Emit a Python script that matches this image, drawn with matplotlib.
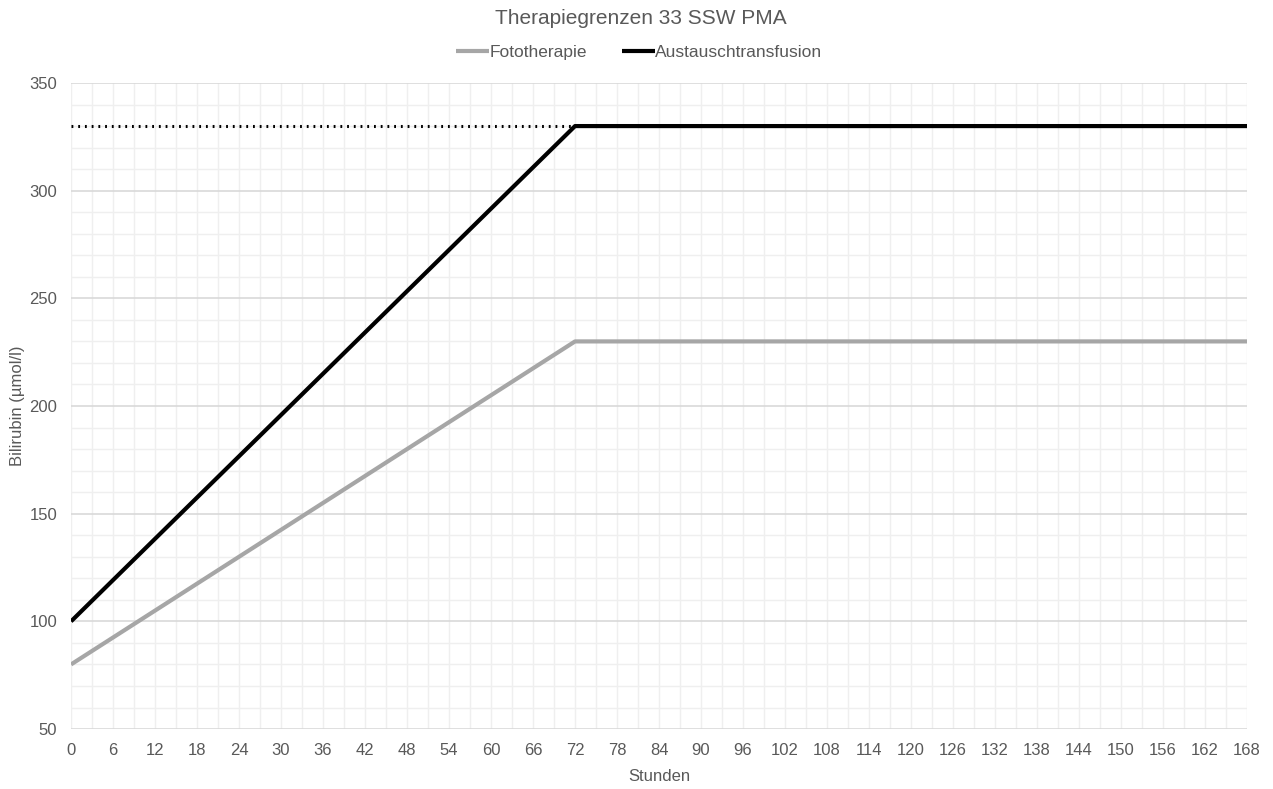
import matplotlib.pyplot as plt
from matplotlib.ticker import MultipleLocator

plt.rcParams['font.family'] = ['Liberation Sans', 'DejaVu Sans']

stunden = [0, 72, 168]
fototherapie = [80, 230, 230]
austausch = [100, 330, 330]
plateau_x = [0, 72]
plateau_y = [330, 330]

text_col = '#595959'

fig = plt.figure(figsize=(12.73, 7.89), dpi=100)
ax = fig.add_axes([0.0558, 0.076, 0.9238, 0.8188])

ax.plot(stunden, fototherapie, color='#a6a6a6', lw=3, label='Fototherapie', solid_capstyle='butt', zorder=3)
ax.plot(stunden, austausch, color='black', lw=3, label='Austauschtransfusion', solid_capstyle='butt', zorder=4)
ax.plot(plateau_x, plateau_y, color='black', lw=2.2, linestyle=(0, (0.6, 1.6)), zorder=3)

ax.set_xlim(0, 168)
ax.set_ylim(50, 350)
ax.xaxis.set_major_locator(MultipleLocator(6))
ax.xaxis.set_minor_locator(MultipleLocator(3))
ax.yaxis.set_major_locator(MultipleLocator(50))
ax.yaxis.set_minor_locator(MultipleLocator(10))

ax.grid(which='minor', color='#efefef', lw=1, zorder=0)
ax.grid(which='major', axis='x', color='#efefef', lw=1, zorder=0)
ax.grid(which='major', axis='y', color='#d9d9d9', lw=1.2, zorder=1)
ax.set_axisbelow(True)

for s in ax.spines.values():
    s.set_visible(False)
ax.tick_params(which='both', length=0, colors=text_col, labelsize=12)
ax.tick_params(axis='x', pad=10)
ax.tick_params(axis='y', pad=10)

ax.set_xlabel('Stunden', color=text_col, fontsize=12, labelpad=8)
ax.set_ylabel('Bilirubin (µmol/l)', color=text_col, fontsize=12, labelpad=3)

fig.text(0.503, 0.977, 'Therapiegrenzen 33 SSW PMA', ha='center', va='center',
         color=text_col, fontsize=15)
leg = fig.legend(loc='center', bbox_to_anchor=(0.502, 0.934), ncol=2, frameon=False,
                 fontsize=12.5, handlelength=1.9, handletextpad=0.05, columnspacing=2.0)
for t in leg.get_texts():
    t.set_color(text_col)

fig.savefig('out.png', dpi=100)
